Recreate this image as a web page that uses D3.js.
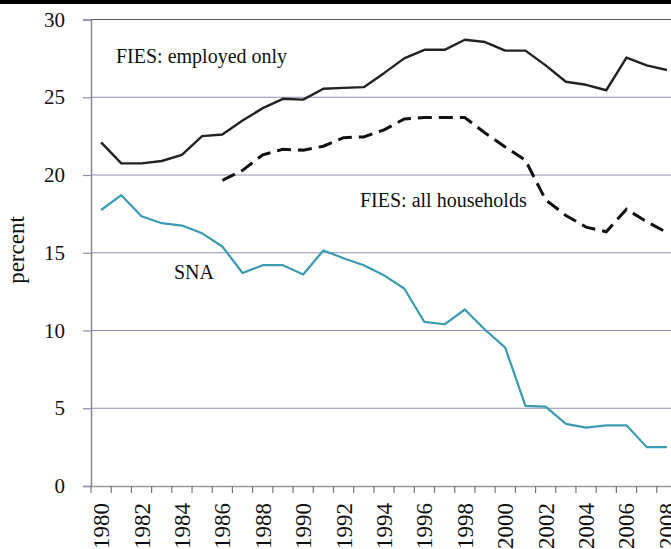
<!DOCTYPE html>
<html><head><meta charset="utf-8">
<script src="https://cdn.jsdelivr.net/npm/d3@7"></script>
<style>body{margin:0;background:#fff}svg{display:block}text{font-family:"Liberation Serif","Times New Roman",serif;fill:#111}</style>
</head><body><div id="chart"></div>
<script>
const years = d3.range(1980, 2009);
const yearLabels = ["1980","1982","1984","1986","1988","1990","1992","1994","1996","1998","2000","2002","2004","2006","2008"];
const employedOnly = [22.1,20.75,20.75,20.9,21.3,22.5,22.6,23.5,24.3,24.9,24.85,25.55,25.6,25.65,26.55,27.5,28.05,28.05,28.7,28.55,28.0,28.0,27.05,26.0,25.8,25.45,27.55,27.05,26.75];
const allHouseholds = [null,null,null,null,null,null,19.65,20.3,21.3,21.65,21.6,21.85,22.4,22.45,22.9,23.6,23.7,23.7,23.7,22.7,21.8,20.95,18.4,17.4,16.65,16.35,17.8,17.0,16.3];
const sna = [17.75,18.7,17.35,16.9,16.75,16.25,15.4,13.7,14.2,14.2,13.6,15.15,14.65,14.2,13.55,12.7,10.55,10.4,11.35,10.05,8.9,5.15,5.1,4.0,3.75,3.9,3.9,2.5,2.5];
const yTicks = [0,5,10,15,20,25,30];

const W = 671, H = 549;
const svg = d3.select("#chart").append("svg").attr("width", W).attr("height", H);
svg.append("rect").attr("x",0).attr("y",0).attr("width",W).attr("height",4).attr("fill","#000");

const pL = 91, pR = 677, pT = 19.5, pB = 486;
const x = d3.scaleBand().domain(years).range([pL, pR]);
const y = d3.scaleLinear().domain([0, 30]).range([pB, pT]);
const cx = d => x(d) + x.bandwidth()/2;

// gridlines
svg.append("g").selectAll("line").data(yTicks.filter(d => d > 0 && d < 30)).join("line")
  .attr("x1", pL).attr("x2", pR).attr("y1", d => y(d)).attr("y2", d => y(d))
  .attr("stroke", "#8e8fb3").attr("stroke-width", 1.2);
// top border
svg.append("line").attr("x1", pL).attr("x2", pR).attr("y1", y(30)).attr("y2", y(30))
  .attr("stroke", "#555").attr("stroke-width", 1.2);

// y axis
const yAxis = svg.append("g").attr("transform", `translate(${pL},0)`)
  .call(d3.axisLeft(y).tickValues(yTicks).tickSize(8).tickPadding(18).tickFormat(d3.format("d")));
yAxis.select(".domain").attr("stroke", "#888").attr("stroke-width", 1.5);
yAxis.selectAll(".tick line").attr("stroke", "#8e8fb3").attr("stroke-width", 1.2);
yAxis.selectAll("text").attr("font-size", 21).attr("font-family", "Liberation Serif").attr("fill", "#111");

// x axis
const xAxis = svg.append("g").attr("transform", `translate(0,${pB})`)
  .call(d3.axisBottom(x).tickSize(0).tickFormat(""));
xAxis.select(".domain").attr("stroke", "#999").attr("stroke-width", 1.5);
svg.append("g").selectAll("line").data(years.concat([2009])).join("line")
  .attr("x1", d => d === 2009 ? pR : x(d)).attr("x2", d => d === 2009 ? pR : x(d))
  .attr("y1", pB).attr("y2", pB + 7).attr("stroke", "#777").attr("stroke-width", 1.2);
svg.append("g").selectAll("text").data(yearLabels).join("text")
  .attr("transform", d => `translate(${cx(+d) + 8},${pB + 17}) rotate(-90)`)
  .attr("text-anchor", "end").attr("font-size", 23).text(d => d);

// y title
svg.append("text").attr("transform", "translate(24,250) rotate(-90)")
  .attr("text-anchor", "middle").attr("font-size", 23).text("percent");

const line = d3.line().defined(d => d.v != null).x(d => cx(d.year)).y(d => y(d.v));
const mk = arr => years.map((yr, i) => ({year: yr, v: arr[i]}));

svg.append("path").datum(mk(sna)).attr("d", line).attr("fill", "none")
  .attr("stroke", "#3b9bb0").attr("stroke-width", 2.2).attr("stroke-linejoin", "round");
svg.append("path").datum(mk(allHouseholds)).attr("d", line).attr("fill", "none")
  .attr("stroke", "#111").attr("stroke-width", 3).attr("stroke-dasharray", "14,7");
svg.append("path").datum(mk(employedOnly)).attr("d", line).attr("fill", "none")
  .attr("stroke", "#222").attr("stroke-width", 2.4).attr("stroke-linejoin", "round");

// annotations
svg.append("text").attr("x", 116).attr("y", 63).attr("font-size", 20).text("FIES: employed only");
svg.append("text").attr("x", 360).attr("y", 207).attr("font-size", 20).text("FIES: all households");
svg.append("text").attr("x", 174).attr("y", 279).attr("font-size", 20).text("SNA");
</script></body></html>
